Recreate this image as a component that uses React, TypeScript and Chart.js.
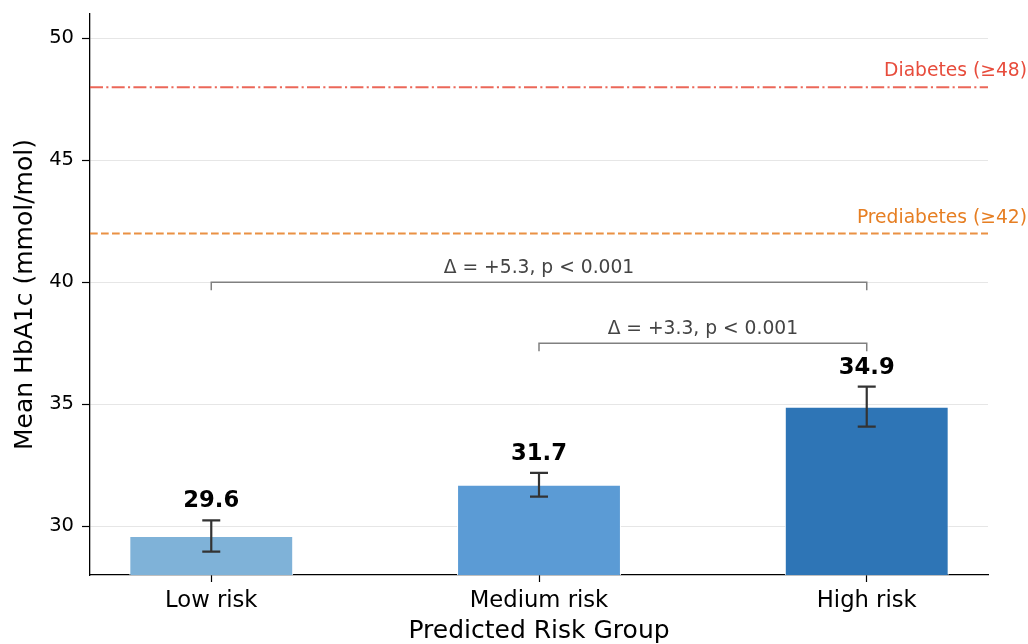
import React, { useEffect, useRef } from "react";
import { Chart, registerables } from "chart.js";

Chart.register(...registerables);

const categories = ["Low risk", "Medium risk", "High risk"];
const means = [29.6, 31.7, 34.9];
const errors = [0.64, 0.49, 0.82];
const barColors = ["#7fb2d8", "#5b9bd5", "#2e75b6"];
const yTickValues = [30, 35, 40, 45, 50];
const refValues = [48, 42];
const refLabels = ["Diabetes (≥48)", "Prediabetes (≥42)"];
const refColors = ["#e74c3c", "#e67e22"];
const bracketFrom = [0, 1];
const bracketTo = [2, 2];
const bracketLevels = [40, 37.5];
const bracketLabels = ["Δ = +5.3, p < 0.001", "Δ = +3.3, p < 0.001"];

const FONT = "'DejaVu Sans', sans-serif";

const overlayPlugin = {
  id: "overlay",
  beforeDatasetsDraw(chart: any) {
    const { ctx, chartArea, scales } = chart;
    const y = scales.y;
    ctx.save();
    refValues.forEach((v, i) => {
      const py = y.getPixelForValue(v);
      ctx.beginPath();
      ctx.strokeStyle = refColors[i];
      ctx.globalAlpha = 0.85;
      ctx.lineWidth = 2;
      ctx.setLineDash(i === 0 ? [13, 3.3, 2.1, 3.3] : [7.7, 3.3]);
      ctx.moveTo(chartArea.left, py);
      ctx.lineTo(chartArea.right, py);
      ctx.stroke();
    });
    ctx.restore();
  },
  afterDatasetsDraw(chart: any) {
    const { ctx, chartArea, scales } = chart;
    const x = scales.x;
    const y = scales.y;
    ctx.save();
    means.forEach((m, i) => {
      const px = x.getPixelForValue(i);
      const top = y.getPixelForValue(m + errors[i]);
      const bot = y.getPixelForValue(m - errors[i]);
      ctx.strokeStyle = "#333333";
      ctx.lineWidth = 2.2;
      ctx.setLineDash([]);
      ctx.beginPath();
      ctx.moveTo(px, top);
      ctx.lineTo(px, bot);
      ctx.moveTo(px - 9, top);
      ctx.lineTo(px + 9, top);
      ctx.moveTo(px - 9, bot);
      ctx.lineTo(px + 9, bot);
      ctx.stroke();
      ctx.fillStyle = "#000000";
      ctx.font = `bold 22.7px ${FONT}`;
      ctx.textAlign = "center";
      ctx.textBaseline = "alphabetic";
      ctx.fillText(m.toFixed(1), px, top - 13);
    });
    bracketLevels.forEach((lv, i) => {
      const x1 = x.getPixelForValue(bracketFrom[i]);
      const x2 = x.getPixelForValue(bracketTo[i]);
      const py = y.getPixelForValue(lv);
      ctx.strokeStyle = "#808080";
      ctx.lineWidth = 1.5;
      ctx.beginPath();
      ctx.moveTo(x1, py + 8);
      ctx.lineTo(x1, py);
      ctx.lineTo(x2, py);
      ctx.lineTo(x2, py + 8);
      ctx.stroke();
      ctx.fillStyle = "#444444";
      ctx.font = `18.7px ${FONT}`;
      ctx.textAlign = "center";
      ctx.textBaseline = "alphabetic";
      ctx.fillText(bracketLabels[i], (x1 + x2) / 2, py - 9);
    });
    refValues.forEach((v, i) => {
      const py = y.getPixelForValue(v);
      ctx.fillStyle = refColors[i];
      ctx.font = `18.7px ${FONT}`;
      ctx.textAlign = "right";
      ctx.textBaseline = "alphabetic";
      ctx.fillText(refLabels[i], chartArea.right + 39, py - 11);
    });
    ctx.restore();
  },
};

export default function App() {
  const ref = useRef<HTMLCanvasElement | null>(null);
  useEffect(() => {
    if (!ref.current) return;
    const chart = new Chart(ref.current, {
      type: "bar",
      data: {
        datasets: [
          {
            data: means.map((m, i) => ({ x: i, y: m })),
            backgroundColor: barColors,
            borderColor: "#ffffff",
            borderWidth: 1,
            barPercentage: 0.5,
            categoryPercentage: 1,
          },
        ],
      },
      options: {
        animation: false,
        responsive: true,
        maintainAspectRatio: false,
        layout: { padding: { top: 14, right: 40, left: 0, bottom: 0 } },
        plugins: { legend: { display: false }, tooltip: { enabled: false } },
        scales: {
          x: {
            type: "linear",
            offset: false,
            min: -0.37,
            max: 2.37,
            afterBuildTicks: (axis: any) => {
              axis.ticks = categories.map((_, i) => ({ value: i }));
            },
            afterFit: (axis: any) => {
              axis.height = 69;
              axis.paddingLeft = 0;
              axis.paddingRight = 0;
            },
            ticks: {
              color: "#000",
              font: { family: FONT, size: 22.7 },
              padding: 5,
              callback: (v: any) => categories[v as number] ?? "",
            },
            grid: { offset: false, drawOnChartArea: false, tickLength: 7, tickColor: "#000", tickWidth: 1.2 },
            border: { color: "#000", width: 1.3 },
            title: {
              display: true,
              text: "Predicted Risk Group",
              color: "#000",
              font: { family: FONT, size: 25, lineHeight: 1 },
              padding: { top: 0, bottom: 0 },
            },
          },
          y: {
            min: 28,
            max: 51,
            afterBuildTicks: (axis: any) => {
              axis.ticks = yTickValues.map((v) => ({ value: v }));
            },
            afterFit: (axis: any) => {
              axis.width = 90;
              axis.paddingTop = 0;
              axis.paddingBottom = 0;
            },
            ticks: { color: "#000", font: { family: FONT, size: 19.5 }, padding: 8 },
            grid: { color: "#e6e6e6", lineWidth: 1, tickLength: 8, tickColor: "#000", tickWidth: 1.2 },
            border: { color: "#000", width: 1.3 },
            title: {
              display: true,
              text: "Mean HbA1c (mmol/mol)",
              color: "#000",
              font: { family: FONT, size: 25, lineHeight: 1 },
              padding: { top: 13, bottom: 0 },
            },
          },
        },
      },
      plugins: [overlayPlugin],
    } as any);
    return () => chart.destroy();
  }, []);
  return (
    <div style={{ position: "fixed", left: 0, top: 0, width: 1028, height: 644, background: "#fff" }}>
      <canvas ref={ref} />
    </div>
  );
}
